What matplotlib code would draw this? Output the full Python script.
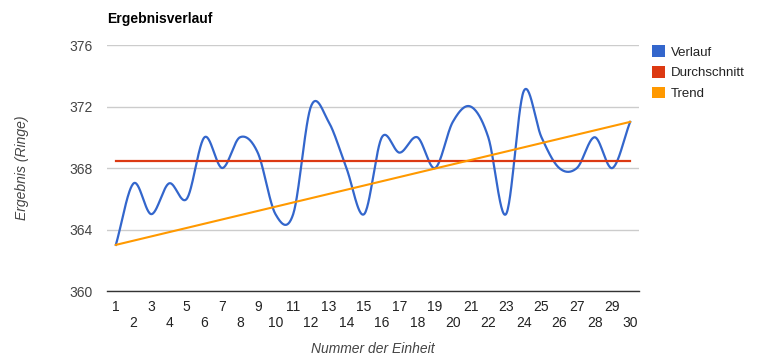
import numpy as np
import matplotlib
matplotlib.use("Agg")
import matplotlib.pyplot as plt
from matplotlib.patches import Patch

plt.rcParams['font.family'] = ['Liberation Sans', 'DejaVu Sans']

# data
einheit = list(range(1, 31))
ergebnis = [363, 367, 365, 367, 366, 370, 368, 370, 369, 365,
            365, 372, 371, 368, 365, 370, 369, 370, 368, 371,
            372, 370, 365, 373, 370, 368, 368, 370, 368, 371]
trend_x = [1, 30]
trend_y = [363, 371]
y_ticks = [360, 364, 368, 372, 376]

BLUE = '#3366cc'
RED = '#dc3912'
ORANGE = '#ff9900'


def smooth(x, y, steps=30):
    """Catmull-Rom style cubic curve through the points (for drawing only)."""
    x = np.asarray(x, float)
    y = np.asarray(y, float)
    n = len(y)
    m = np.zeros(n)
    m[1:-1] = (y[2:] - y[:-2]) / 2
    m[0] = y[1] - y[0]
    m[-1] = y[-1] - y[-2]
    xs, ys = [], []
    for i in range(n - 1):
        t = np.linspace(0, 1, steps, endpoint=(i == n - 2))
        h00 = 2 * t**3 - 3 * t**2 + 1
        h10 = t**3 - 2 * t**2 + t
        h01 = -2 * t**3 + 3 * t**2
        h11 = t**3 - t**2
        xs.append(x[i] + t * (x[i + 1] - x[i]))
        ys.append(h00 * y[i] + h10 * m[i] + h01 * y[i + 1] + h11 * m[i + 1])
    return np.concatenate(xs), np.concatenate(ys)


fig = plt.figure(figsize=(7.62, 3.61), dpi=100)
ax = fig.add_axes([0.1404, 0.1939, 0.6982, 0.6814])

avg = np.mean(ergebnis)
sx, sy = smooth(einheit, ergebnis)
ax.plot(sx, sy, color=BLUE, lw=1.6, zorder=3)
ax.plot([einheit[0], einheit[-1]], [avg, avg], color=RED, lw=1.6, zorder=3)
ax.plot(trend_x, trend_y, color=ORANGE, lw=1.5, zorder=4)

ax.set_xlim(0.5, 30.5)
ax.set_ylim(360, 376)
ax.set_yticks(y_ticks)
ax.set_yticklabels([str(v) for v in y_ticks], color='#444444', fontsize=10)
ax.yaxis.grid(True, color='#cccccc', lw=1)
ax.set_axisbelow(True)
ax.tick_params(axis='y', length=0, pad=10)

ax.set_xticks(einheit)
ax.set_xticklabels([])
ax.tick_params(axis='x', length=0)
for v in einheit:
    off = 0.064 if v % 2 == 1 else 0.13
    ax.text(v, -off, str(v), transform=ax.get_xaxis_transform(),
            ha='center', va='center', fontsize=10, color='#222222')

for s in ['top', 'right', 'left']:
    ax.spines[s].set_visible(False)
ax.spines['bottom'].set_color('#333333')
ax.spines['bottom'].set_linewidth(1)

fig.text(107 / 762, 1 - 19 / 361, 'Ergebnisverlauf', fontsize=10,
         fontweight='bold', ha='left', va='center', color='#000000')
fig.text(22 / 762, 1 - 168 / 361, 'Ergebnis (Ringe)', rotation=90,
         fontsize=10, style='italic', ha='center', va='center', color='#444444')
fig.text(373 / 762, 1 - 349 / 361, 'Nummer der Einheit', fontsize=10,
         style='italic', ha='center', va='center', color='#444444')

handles = [Patch(facecolor=c, edgecolor='none') for c in (BLUE, RED, ORANGE)]
leg = fig.legend(handles, ['Verlauf', 'Durchschnitt', 'Trend'],
                 loc='upper left', bbox_to_anchor=(647 / 762, 1 - 40 / 361),
                 frameon=False, fontsize=9.5, handlelength=1.0, handleheight=1.0,
                 handletextpad=0.4, labelspacing=0.55, borderaxespad=0)
for t in leg.get_texts():
    t.set_color('#222222')

fig.savefig('out.png', dpi=100)
